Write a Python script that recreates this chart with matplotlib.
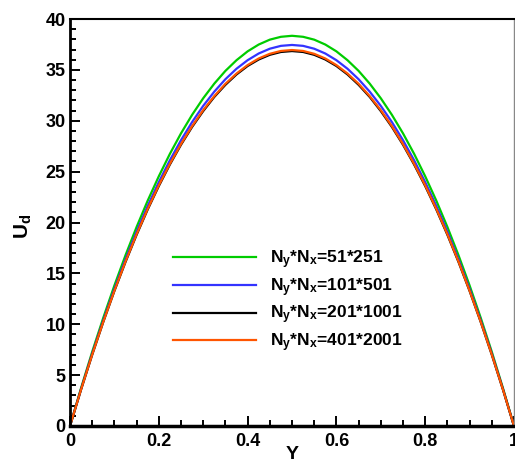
import matplotlib
matplotlib.use("Agg")
import matplotlib.pyplot as plt
from matplotlib.ticker import MultipleLocator

plt.rcParams['font.family'] = ['Liberation Sans', 'DejaVu Sans']
plt.rcParams['font.weight'] = 'bold'
plt.rcParams['mathtext.fontset'] = 'custom'
plt.rcParams['mathtext.rm'] = 'Liberation Sans:bold'
plt.rcParams['mathtext.bf'] = 'Liberation Sans:bold'
plt.rcParams['mathtext.it'] = 'Liberation Sans:bold'

Y = [0.0, 0.025, 0.05, 0.075, 0.1, 0.125, 0.15, 0.175, 0.2, 0.225, 0.25, 0.275, 0.3, 0.325,
     0.35, 0.375, 0.4, 0.425, 0.45, 0.475, 0.5, 0.525, 0.55, 0.575, 0.6, 0.625, 0.65, 0.675,
     0.7, 0.725, 0.75, 0.775, 0.8, 0.825, 0.85, 0.875, 0.9, 0.925, 0.95, 0.975, 1.0]

U_51 = [0.0, 3.74, 7.29, 10.64, 13.81, 16.78, 19.56, 22.15, 24.54, 26.75, 28.76, 30.58, 32.21,
        33.65, 34.90, 35.95, 36.82, 37.49, 37.97, 38.25, 38.35, 38.25, 37.97, 37.49, 36.82,
        35.95, 34.90, 33.65, 32.21, 30.58, 28.76, 26.75, 24.54, 22.15, 19.56, 16.78, 13.81,
        10.64, 7.29, 3.74, 0.0]
U_101 = [0.0, 3.65, 7.12, 10.39, 13.48, 16.38, 19.10, 21.63, 23.97, 26.12, 28.09, 29.87, 31.46,
         32.86, 34.08, 35.11, 35.95, 36.61, 37.08, 37.36, 37.45, 37.36, 37.08, 36.61, 35.95,
         35.11, 34.08, 32.86, 31.46, 29.87, 28.09, 26.12, 23.97, 21.63, 19.10, 16.38, 13.48,
         10.39, 7.12, 3.65, 0.0]
U_201 = [0.0, 3.59, 7.00, 10.23, 13.27, 16.12, 18.79, 21.28, 23.58, 25.70, 27.64, 29.39, 30.95,
         32.34, 33.53, 34.55, 35.38, 36.02, 36.48, 36.76, 36.85, 36.76, 36.48, 36.02, 35.38,
         34.55, 33.53, 32.34, 30.95, 29.39, 27.64, 25.70, 23.58, 21.28, 18.79, 16.12, 13.27,
         10.23, 7.00, 3.59, 0.0]
U_401 = [0.0, 3.60, 7.02, 10.25, 13.30, 16.17, 18.85, 21.34, 23.65, 25.77, 27.71, 29.47, 31.04,
         32.42, 33.63, 34.64, 35.47, 36.12, 36.58, 36.86, 36.95, 36.86, 36.58, 36.12, 35.47,
         34.64, 33.63, 32.42, 31.04, 29.47, 27.71, 25.77, 23.65, 21.34, 18.85, 16.17, 13.30,
         10.25, 7.02, 3.60, 0.0]

labels = [r'N$_\mathbf{y}$*N$_\mathbf{x}$=51*251',
          r'N$_\mathbf{y}$*N$_\mathbf{x}$=101*501',
          r'N$_\mathbf{y}$*N$_\mathbf{x}$=201*1001',
          r'N$_\mathbf{y}$*N$_\mathbf{x}$=401*2001']
colors = ['#00cc00', '#3333ff', '#000000', '#ff5500']
series = [U_51, U_101, U_201, U_401]

fig = plt.figure(figsize=(5.15, 4.62), dpi=100)
ax = fig.add_axes([70/515, 1-426/462, 444/515, 407/462])

for u, c, lab in zip(series, colors, labels):
    ax.plot(Y, u, color=c, lw=1.6, label=lab)

ax.set_xlim(0, 1)
ax.set_ylim(0, 40)
ax.xaxis.set_major_locator(MultipleLocator(0.2))
ax.xaxis.set_minor_locator(MultipleLocator(0.05))
ax.yaxis.set_major_locator(MultipleLocator(5))
ax.yaxis.set_minor_locator(MultipleLocator(1))
ax.xaxis.set_major_formatter(matplotlib.ticker.FuncFormatter(lambda v, p: f'{v:g}'))
ax.tick_params(which='both', direction='in', top=False, right=False, labelsize=13, width=1.4)
ax.tick_params(which='major', length=7, pad=3)
ax.tick_params(axis='x', which='major', pad=5)
ax.tick_params(which='minor', length=4)
for lbl in ax.get_xticklabels() + ax.get_yticklabels():
    lbl.set_fontweight('bold')

ax.spines['left'].set_linewidth(2)
ax.spines['bottom'].set_linewidth(2.5)
ax.spines['top'].set_linewidth(1.5)
ax.spines['right'].set_linewidth(1.0)
ax.spines['right'].set_color('#888888')

ax.set_xlabel('Y', fontsize=14, fontweight='bold')
ax.xaxis.set_label_coords(0.5, -0.05)
ax.set_ylabel(r'U$_\mathbf{d}$', fontsize=15, fontweight='bold')
ax.yaxis.set_label_coords(-0.08, 0.49)

leg = ax.legend(loc='upper left', bbox_to_anchor=(0.232, 0.437), frameon=False,
                fontsize=12.5, handlelength=4.8, handletextpad=0.8, labelspacing=0.3,
                borderpad=0, borderaxespad=0)

fig.savefig('out.png', dpi=100)
